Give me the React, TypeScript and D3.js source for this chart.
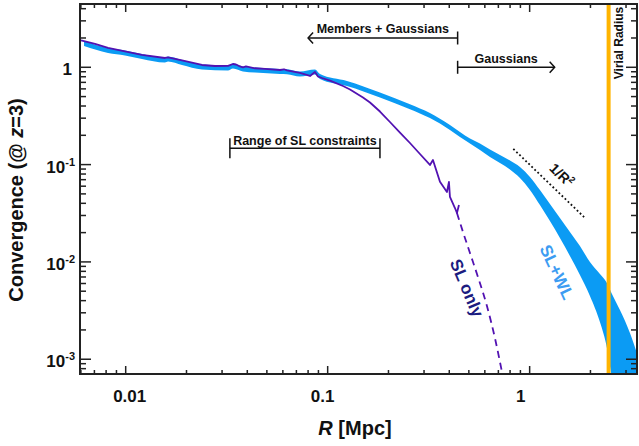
import React, { useEffect, useRef } from "react";
import * as d3 from "d3";

const W = 639;
const H = 446;

// SL only model (solid part): radius [Mpc] / convergence
const slR = [0.00601, 0.00705, 0.00818, 0.00992, 0.01204, 0.01565, 0.0162, 0.019, 0.02386, 0.02768, 0.03209, 0.03398, 0.03516, 0.0368, 0.03808, 0.03939, 0.04366, 0.04893, 0.05805, 0.06077, 0.06288, 0.0729, 0.08174, 0.08652, 0.08954, 0.09371, 0.1027, 0.1191, 0.129, 0.1496, 0.162, 0.1815, 0.2034, 0.228, 0.2555, 0.2864, 0.3209, 0.3321, 0.3597, 0.3895, 0.3985, 0.4031, 0.4268, 0.4366, 0.4467];
const slK = [1.886, 1.736, 1.579, 1.453, 1.338, 1.246, 1.267, 1.175, 1.056, 1.031, 1.036, 1.081, 1.068, 1.019, 1.0, 1.019, 0.977, 0.961, 0.938, 0.954, 0.931, 0.874, 0.814, 0.895, 0.804, 0.776, 0.728, 0.642, 0.591, 0.489, 0.435, 0.351, 0.274, 0.2137, 0.1667, 0.1285, 0.0991, 0.1115, 0.0667, 0.0523, 0.0663, 0.0465, 0.0358, 0.0318, 0.0384];

// SL only extrapolation (dashed)
const slExtR = [0.4366, 0.4677, 0.5065, 0.5549, 0.6146, 0.6732, 0.7294, 0.7462];
const slExtK = [0.0318, 0.0203, 0.01234, 0.00699, 0.00352, 0.00165, 0.000739, 0.000583];

// SL+WL band
const bandR = [0.00622, 0.00818, 0.00992, 0.01204, 0.01565, 0.0162, 0.019, 0.02386, 0.03209, 0.03398, 0.03808, 0.04366, 0.05805, 0.06288, 0.0729, 0.08652, 0.0916, 0.1246, 0.1815, 0.2555, 0.3209, 0.4031, 0.4519, 0.5065, 0.5675, 0.6362, 0.7129, 0.799, 0.8954, 1.0035, 1.1246, 1.2604, 1.4125, 1.583, 1.7742, 1.9884, 2.2284, 2.4136, 2.5552, 2.799, 3.137, 3.437];
const bandLo = [1.655, 1.403, 1.322, 1.217, 1.12, 1.147, 1.056, 0.949, 0.927, 0.972, 0.905, 0.884, 0.853, 0.847, 0.804, 0.843, 0.758, 0.642, 0.489, 0.371, 0.301, 0.2268, 0.1922, 0.1648, 0.1413, 0.1197, 0.1039, 0.0891, 0.0728, 0.0548, 0.0384, 0.0263, 0.0176, 0.0115, 0.00733, 0.00446, 0.00241, 0.001303, 0.000641, 0.000237, 0.0000727, 0.0000357];
const bandHi = [1.864, 1.579, 1.488, 1.37, 1.261, 1.291, 1.189, 1.069, 1.043, 1.094, 1.019, 0.995, 0.961, 0.954, 0.905, 0.949, 0.853, 0.723, 0.551, 0.4175, 0.339, 0.255, 0.2163, 0.1854, 0.1648, 0.143, 0.1255, 0.1102, 0.0945, 0.0746, 0.0548, 0.0394, 0.0283, 0.0203, 0.01457, 0.00998, 0.00751, 0.00607, 0.00468, 0.0032, 0.00186, 0.00108];

// 1/R^2 guide
const slopeR = [0.83, 1.86];
const slopeK = [0.145, 0.0289];

const virialR = 2.46;

// annotation ranges
const membersRange = [0.08, 0.44];
const gaussRange = [0.44, 1.33];
const slRange = [0.0328, 0.1815];

const xTicks = [0.01, 0.1, 1];
const xTickLabels = ["0.01", "0.1", "1"];
const xTickNudge = [4, -5, -9];
const yTicks = [0.001, 0.01, 0.1, 1];
const yTickExp = ["-3", "-2", "-1", ""];

const FONT = "Liberation Sans, Arial, sans-serif";

export default function App() {
  const ref = useRef<SVGSVGElement>(null);

  useEffect(() => {
    if (!ref.current) return;
    const svg = d3.select(ref.current);
    svg.selectAll("*").remove();

    const left = 80, right = 637, top = 4, bottom = 374;
    const x = d3.scaleLog().domain([0.00594, 3.4]).range([left, right]);
    const y = d3.scaleLog().domain([0.000705, 4.47]).range([bottom, top]);

    svg.append("defs").append("clipPath").attr("id", "plot")
      .append("rect").attr("x", left).attr("y", top)
      .attr("width", right - left).attr("height", bottom - top);

    const g = svg.append("g").attr("clip-path", "url(#plot)");

    // band SL+WL
    const area = d3.area<number>()
      .x(i => x(bandR[i]))
      .y0(i => y(bandLo[i]))
      .y1(i => y(bandHi[i]))
      .curve(d3.curveMonotoneX);
    g.append("path").attr("d", area(d3.range(bandR.length)))
      .attr("fill", "#0b9bf4");

    // SL only
    const line = d3.line<number>().x(d => d[0]).y(d => d[1]);
    g.append("path")
      .attr("d", d3.line<number>().x(i => x(slR[i])).y(i => y(slK[i]))(d3.range(slR.length)))
      .attr("fill", "none").attr("stroke", "#5212b2").attr("stroke-width", 1.8)
      .attr("stroke-linejoin", "round");
    g.append("path")
      .attr("d", d3.line<number>().x(i => x(slExtR[i])).y(i => y(slExtK[i])).curve(d3.curveMonotoneX)(d3.range(slExtR.length)))
      .attr("fill", "none").attr("stroke", "#5212b2").attr("stroke-width", 1.8)
      .attr("stroke-dasharray", "7,5");

    // 1/R^2 dotted guide
    g.append("line")
      .attr("x1", x(slopeR[0])).attr("y1", y(slopeK[0]))
      .attr("x2", x(slopeR[1])).attr("y2", y(slopeK[1]))
      .attr("stroke", "#111").attr("stroke-width", 1.8).attr("stroke-dasharray", "1.8,2.4");

    // virial radius
    g.append("line")
      .attr("x1", x(virialR)).attr("x2", x(virialR))
      .attr("y1", top).attr("y2", bottom)
      .attr("stroke", "#ffb400").attr("stroke-width", 4);

    // ticks on all four sides
    const tick = (v: number) => Math.abs(Math.log10(v) - Math.round(Math.log10(v))) < 1e-6;
    const tg = svg.append("g").attr("stroke", "#222").attr("stroke-width", 1.5);
    x.ticks().filter(t => x(t) > left && x(t) < right).forEach(t => {
      const L = tick(t) ? 8 : 4;
      tg.append("line").attr("x1", x(t)).attr("x2", x(t)).attr("y1", bottom).attr("y2", bottom - L);
      tg.append("line").attr("x1", x(t)).attr("x2", x(t)).attr("y1", top).attr("y2", top + L);
    });
    y.ticks().filter(t => y(t) > top && y(t) < bottom).forEach(t => {
      const L = tick(t) ? 11 : 6;
      tg.append("line").attr("y1", y(t)).attr("y2", y(t)).attr("x1", left).attr("x2", left + L);
      tg.append("line").attr("y1", y(t)).attr("y2", y(t)).attr("x1", right).attr("x2", right - L);
    });

    svg.append("rect").attr("x", left).attr("y", top)
      .attr("width", right - left).attr("height", bottom - top)
      .attr("fill", "none").attr("stroke", "#222").attr("stroke-width", 2);

    // tick labels
    const lab = svg.append("g").attr("font-family", FONT).attr("font-weight", "bold").attr("fill", "#111");
    xTicks.forEach((t, i) => {
      lab.append("text").attr("x", x(t) + xTickNudge[i]).attr("y", 402)
        .attr("text-anchor", "middle").attr("font-size", 17).text(xTickLabels[i]);
    });
    yTicks.forEach((t, i) => {
      const tx = lab.append("text").attr("x", 75).attr("y", y(t) + 8)
        .attr("text-anchor", "end").attr("font-size", 17);
      if (yTickExp[i]) {
        tx.append("tspan").text("10");
        tx.append("tspan").attr("dy", -7).attr("font-size", 11).text(yTickExp[i]);
      } else {
        tx.attr("x", 72).text("1");
      }
    });

    // axis titles
    const xt = lab.append("text").attr("x", 355).attr("y", 435)
      .attr("text-anchor", "middle").attr("font-size", 20);
    xt.append("tspan").attr("font-style", "italic").text("R");
    xt.append("tspan").text(" [Mpc]");

    const yt = lab.append("text").attr("transform", "translate(22.5,200) rotate(-90)")
      .attr("text-anchor", "middle").attr("font-size", 20);
    yt.append("tspan").text("Convergence (@ ");
    yt.append("tspan").attr("font-style", "italic").text("z");
    yt.append("tspan").text("=3)");

    // annotations
    const ann = svg.append("g").attr("stroke", "#111").attr("stroke-width", 1.5).attr("fill", "none");
    const bar = (xv: number, yv: number, h: number) =>
      ann.append("line").attr("x1", x(xv)).attr("x2", x(xv)).attr("y1", y(yv) - h).attr("y2", y(yv) + h);
    const hline = (r: number[], yv: number) =>
      ann.append("line").attr("x1", x(r[0])).attr("x2", x(r[1])).attr("y1", y(yv)).attr("y2", y(yv));
    const head = (xv: number, yv: number, dir: number) =>
      ann.append("path").attr("d", `M${x(xv) - dir * 5},${y(yv) - 5.5}L${x(xv)},${y(yv)}L${x(xv) - dir * 5},${y(yv) + 5.5}`);

    hline(membersRange, 2); bar(membersRange[1], 2, 6.5); head(membersRange[0], 2, -1);
    hline(gaussRange, 1); bar(gaussRange[0], 1, 6.5); head(gaussRange[1], 1, 1);
    hline(slRange, 0.147); bar(slRange[0], 0.147, 10); bar(slRange[1], 0.147, 10);

    const note = (r: number[], yv: number, dy: number, s: string) =>
      lab.append("text").attr("x", (x(r[0]) + x(r[1])) / 2).attr("y", y(yv) + dy)
        .attr("text-anchor", "middle").attr("font-size", 12.5).text(s);
    note(membersRange, 2, -5, "Members + Gaussians");
    note(gaussRange, 1, -4, "Gaussians");
    note(slRange, 0.147, -3, "Range of SL constraints");

    lab.append("text").attr("transform", `translate(${x(virialR) + 14},${y(1.777)}) rotate(-90)`)
      .attr("text-anchor", "middle").attr("font-size", 12).text("Virial Radius");

    const r2 = lab.append("text").attr("transform", `translate(${x(1.44)},${y(0.0781)}) rotate(44)`)
      .attr("text-anchor", "middle").attr("dy", 5).attr("font-size", 14);
    r2.append("tspan").text("1/R");
    r2.append("tspan").attr("dy", -6).attr("font-size", 9).text("2");

    lab.append("text").attr("transform", `translate(${x(0.4895)},${y(0.00539)}) rotate(67)`)
      .attr("text-anchor", "middle").attr("dy", 6).attr("font-size", 17).attr("fill", "#1c1c80").text("SL only");
    lab.append("text").attr("transform", `translate(${x(1.365)},${y(0.00787)}) rotate(65)`)
      .attr("text-anchor", "middle").attr("dy", 6).attr("font-size", 17).attr("fill", "#3d9cf2").text("SL+WL");
  }, []);

  return (
    <svg ref={ref} width={W} height={H}
      style={{ position: "absolute", left: 0, top: 0, background: "#fff" }} />
  );
}
